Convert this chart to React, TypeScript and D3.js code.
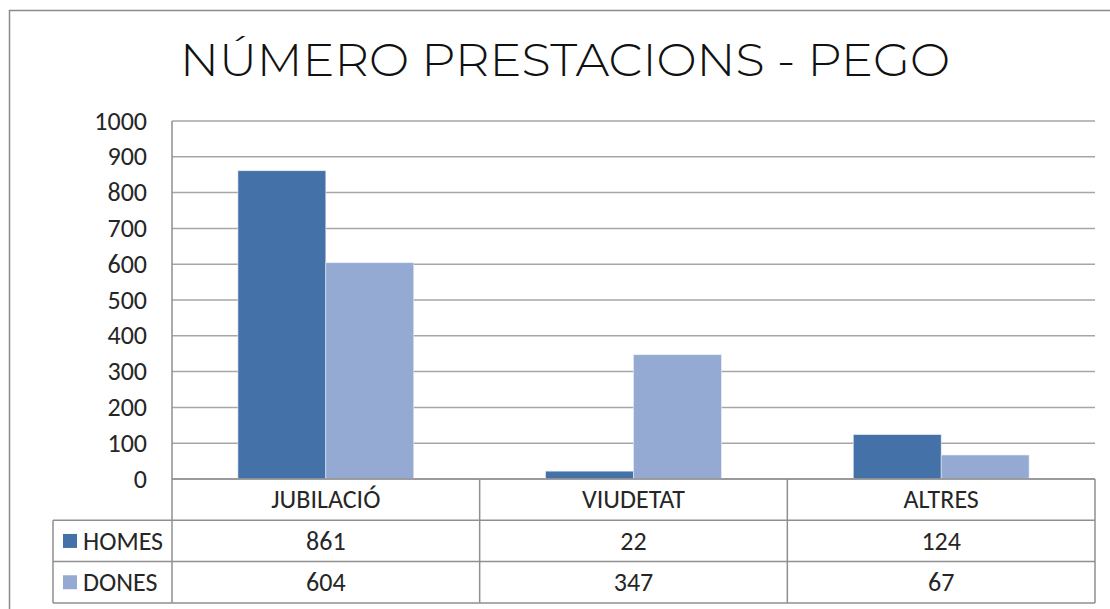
import React from "react";
import * as d3 from "d3";

const title = "NÚMERO PRESTACIONS - PEGO";
const categories = ["JUBILACIÓ", "VIUDETAT", "ALTRES"];
const seriesNames = ["HOMES", "DONES"];
const homes = [861, 22, 124];
const dones = [604, 347, 67];
const yTicks = [0, 100, 200, 300, 400, 500, 600, 700, 800, 900, 1000];
const colors = ["#4472A8", "#95AAD2"];

const W = 1110;
const H = 609;
const plotLeft = 172;
const plotRight = 1095;
const plotTop = 121;
const plotBottom = 479;
const rowH = 41.3;
const legendLeft = 53;
const font = "Carlito, Calibri, 'Liberation Sans', Arial, sans-serif";
const grid = "#a6a6a6";
const border = "#8f8f8f";
const fs = 26;

export default function App() {
  const x = d3.scaleBand<string>().domain(categories).range([plotLeft, plotRight]).padding(0);
  const xs = d3
    .scaleBand<string>()
    .domain(seriesNames)
    .range([0, x.bandwidth()])
    .paddingInner(0)
    .paddingOuter(0.75);
  const y = d3.scaleLinear().domain([0, 1000]).range([plotBottom, plotTop]);
  const values = [homes, dones];
  const tableTop = plotBottom;
  const rowsTop = tableTop + rowH;
  const tableBottom = rowsTop + 2 * rowH;

  return (
    <svg width={W} height={H} style={{ position: "absolute", left: 0, top: 0, background: "#fff" }}>
      <rect x={9.5} y={10.5} width={W + 20} height={H + 20} fill="#fff" stroke="#8a8a8a" strokeWidth={1.5} />
      <text
        x={565}
        y={76}
        textAnchor="middle"
        fontFamily="Montserrat, 'Open Sans', 'Noto Sans', sans-serif"
        fontWeight={300}
        fontSize={46}
        fill="#111"
        textLength={770}
        lengthAdjust="spacingAndGlyphs"
      >
        {title}
      </text>
      {yTicks.map((t) => (
        <g key={t}>
          <line x1={plotLeft} x2={plotRight} y1={y(t)} y2={y(t)} stroke={grid} strokeWidth={1.5} />
          <text x={147} y={y(t)} dy="0.33em" textAnchor="end" fontFamily={font} fontSize={fs} fill="#262626">
            {t}
          </text>
        </g>
      ))}
      {categories.map((c, i) =>
        seriesNames.map((s, j) => (
          <rect
            key={c + s}
            x={(x(c) as number) + (xs(s) as number)}
            y={y(values[j][i])}
            width={xs.bandwidth()}
            height={plotBottom - y(values[j][i])}
            fill={colors[j]}
            stroke="#e6ecf5"
            strokeWidth={0.6}
          />
        ))
      )}
      <line x1={plotLeft} x2={plotLeft} y1={plotTop} y2={tableBottom} stroke={border} strokeWidth={1.5} />
      <g stroke={border} strokeWidth={1.5} fill="none">
        <line x1={plotLeft} x2={plotRight} y1={tableTop} y2={tableTop} />
        <line x1={legendLeft} x2={plotRight} y1={rowsTop} y2={rowsTop} />
        <line x1={legendLeft} x2={plotRight} y1={rowsTop + rowH} y2={rowsTop + rowH} />
        <line x1={legendLeft} x2={plotRight} y1={tableBottom} y2={tableBottom} />
        <line x1={legendLeft} x2={legendLeft} y1={rowsTop} y2={tableBottom} />
        {categories.map((c) => (
          <line key={c} x1={(x(c) as number) + x.bandwidth()} x2={(x(c) as number) + x.bandwidth()} y1={tableTop} y2={tableBottom} />
        ))}
      </g>
      {categories.map((c) => (
        <text
          key={c}
          x={(x(c) as number) + x.bandwidth() / 2}
          y={tableTop + rowH / 2}
          dy="0.33em"
          textAnchor="middle"
          fontFamily={font}
          fontSize={fs}
          fill="#262626"
        >
          {c}
        </text>
      ))}
      {seriesNames.map((s, j) => (
        <g key={s}>
          <rect x={63} y={rowsTop + j * rowH + rowH / 2 - 7} width={14} height={14} fill={colors[j]} />
          <text x={83} y={rowsTop + j * rowH + rowH / 2} dy="0.33em" fontFamily={font} fontSize={fs} fill="#262626">
            {s}
          </text>
          {categories.map((c, i) => (
            <text
              key={c}
              x={(x(c) as number) + x.bandwidth() / 2}
              y={rowsTop + j * rowH + rowH / 2}
              dy="0.33em"
              textAnchor="middle"
              fontFamily={font}
              fontSize={fs}
              fill="#262626"
            >
              {values[j][i]}
            </text>
          ))}
        </g>
      ))}
    </svg>
  );
}
